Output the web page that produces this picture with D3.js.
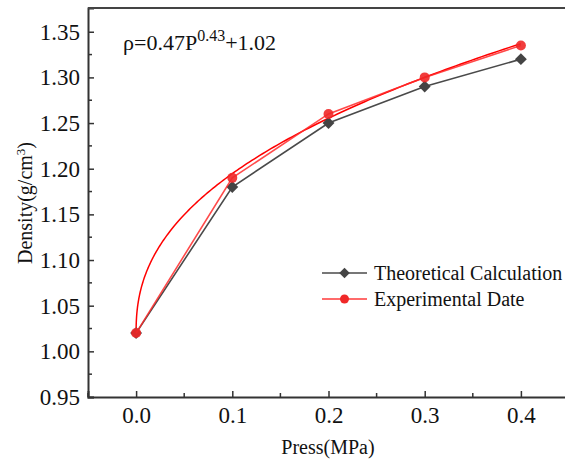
<!DOCTYPE html>
<html>
<head>
<meta charset="utf-8">
<script src="https://cdn.jsdelivr.net/npm/d3@7"></script>
<style>
  body { margin: 0; background: #fff; }
  svg text { font-family: "Liberation Serif", "Times New Roman", serif !important; fill: #111; }
</style>
</head>
<body>
<svg id="chart" width="565" height="463"></svg>
<script>
const press = [0.0, 0.1, 0.2, 0.3, 0.4];
const theoretical = [1.02, 1.18, 1.25, 1.29, 1.32];
const experimental = [1.02, 1.19, 1.26, 1.30, 1.335];
const xTicks = [0.0, 0.1, 0.2, 0.3, 0.4];
const yTicks = [0.95, 1.00, 1.05, 1.10, 1.15, 1.20, 1.25, 1.30, 1.35];
// fit printed on the chart: rho = 0.47 P^0.43 + 1.02
const fitA = 0.47, fitB = 0.43, fitC = 1.02;

const serif = "'Liberation Serif', 'Times New Roman', serif";
const svg = d3.select("#chart");
const margin = { top: 8, left: 88, bottom: 66, right: -4 };
const width = 565 - margin.left - margin.right;
const height = 463 - margin.top - margin.bottom;

const x = d3.scaleLinear().domain([-0.05, 0.45]).range([0, width]);
const y = d3.scaleLinear().domain([0.95, 1.376]).range([height, 0]);

const g = svg.append("g").attr("transform", `translate(${margin.left},${margin.top})`);

// Axes (ticks point inward)
const xAxis = d3.axisBottom(x).tickValues(xTicks).tickSize(-6).tickPadding(10).tickFormat(d3.format(".1f"));
const yAxis = d3.axisLeft(y).tickValues(yTicks).tickSize(-6).tickPadding(8).tickFormat(d3.format(".2f"));

const gx = g.append("g").attr("transform", `translate(0,${height})`).call(xAxis);
const gy = g.append("g").call(yAxis);
[gx, gy].forEach(a => {
  a.attr("font-family", serif).attr("font-size", 23);
  a.select(".domain").attr("stroke", "#333").attr("stroke-width", 2);
  a.selectAll(".tick line").attr("stroke", "#333").attr("stroke-width", 1.5);
  a.selectAll(".tick text").style("font-family", serif).style("font-size", "23px").attr("fill", "#111");
});

// minor ticks
const xMinor = [-0.05, 0.05, 0.15, 0.25, 0.35, 0.45];
g.append("g").selectAll("line").data(xMinor).join("line")
  .attr("x1", d => x(d)).attr("x2", d => x(d))
  .attr("y1", height).attr("y2", height - 4)
  .attr("stroke", "#333").attr("stroke-width", 1.5);
const yMinor = yTicks.slice(0, -1).map(v => v + 0.025);
g.append("g").selectAll("line").data(yMinor).join("line")
  .attr("x1", 0).attr("x2", 4)
  .attr("y1", d => y(d)).attr("y2", d => y(d))
  .attr("stroke", "#333").attr("stroke-width", 1.5);

// top frame line
g.append("line").attr("x1", 0).attr("x2", width).attr("y1", 0).attr("y2", 0)
  .attr("stroke", "#444").attr("stroke-width", 2);

// Fit curve (denser sampling near zero where it is steep)
const fitP = d3.range(0, 1.0001, 0.005).map(t => 0.4 * Math.pow(t, 3));
g.append("path")
  .datum(fitP)
  .attr("fill", "none").attr("stroke", "#ff0000").attr("stroke-width", 1.5)
  .attr("d", d3.line().x(p => x(p)).y(p => y(fitA * Math.pow(p, fitB) + fitC)));

// Theoretical line
const line = d3.line().x((d, i) => x(press[i])).y(d => y(d));
g.append("path").datum(theoretical)
  .attr("fill", "none").attr("stroke", "#4a4a4a").attr("stroke-width", 1.6).attr("d", line);
g.append("g").selectAll("path").data(theoretical).join("path")
  .attr("transform", (d, i) => `translate(${x(press[i])},${y(d)})`)
  .attr("d", d3.symbol(d3.symbolDiamond2, 90))
  .attr("fill", "#444");

// Experimental line
g.append("path").datum(experimental)
  .attr("fill", "none").attr("stroke", "#ff2a2a").attr("stroke-opacity", 0.85).attr("stroke-width", 1.6).attr("d", line);
g.append("g").selectAll("circle").data(experimental).join("circle")
  .attr("cx", (d, i) => x(press[i])).attr("cy", d => y(d)).attr("r", 5)
  .attr("fill", "#f02828").attr("fill-opacity", 0.9);

// Equation
const eq = svg.append("text").attr("x", 123).attr("y", 50).style("font-size", "22px").style("font-family", serif);
eq.append("tspan").text("ρ=0.47P");
eq.append("tspan").attr("dy", -9).style("font-size", "16px").text("0.43");
eq.append("tspan").attr("dy", 9).text("+1.02");

// Legend
const legend = svg.append("g").attr("transform", "translate(322,273)");
const items = [
  { name: "Theoretical Calculation", color: "#4a4a4a", shape: "diamond" },
  { name: "Experimental Date", color: "#ff3a3a", shape: "circle" }
];
items.forEach((it, i) => {
  const row = legend.append("g").attr("transform", `translate(0,${i * 26})`);
  row.append("line").attr("x1", 0).attr("x2", 45).attr("stroke", it.color).attr("stroke-width", 1.6);
  if (it.shape === "diamond") {
    row.append("path").attr("transform", "translate(22.5,0)").attr("d", d3.symbol(d3.symbolDiamond2, 70)).attr("fill", "#444");
  } else {
    row.append("circle").attr("cx", 22.5).attr("r", 4.5).attr("fill", "#f02828");
  }
  row.append("text").attr("x", 52).attr("dy", "0.35em").style("font-size", "20px").style("font-family", serif).text(it.name);
});

// Axis titles
svg.append("text").attr("x", 328).attr("y", 454).attr("text-anchor", "middle")
  .style("font-size", "20px").style("font-family", serif).text("Press(MPa)");
const yl = svg.append("text").attr("transform", "translate(32,203) rotate(-90)").attr("text-anchor", "middle")
  .style("font-size", "20px").style("font-family", serif);
yl.append("tspan").text("Density(g/cm");
yl.append("tspan").attr("dy", -7).style("font-size", "13px").text("3");
yl.append("tspan").attr("dy", 7).text(")");
</script>
</body>
</html>
